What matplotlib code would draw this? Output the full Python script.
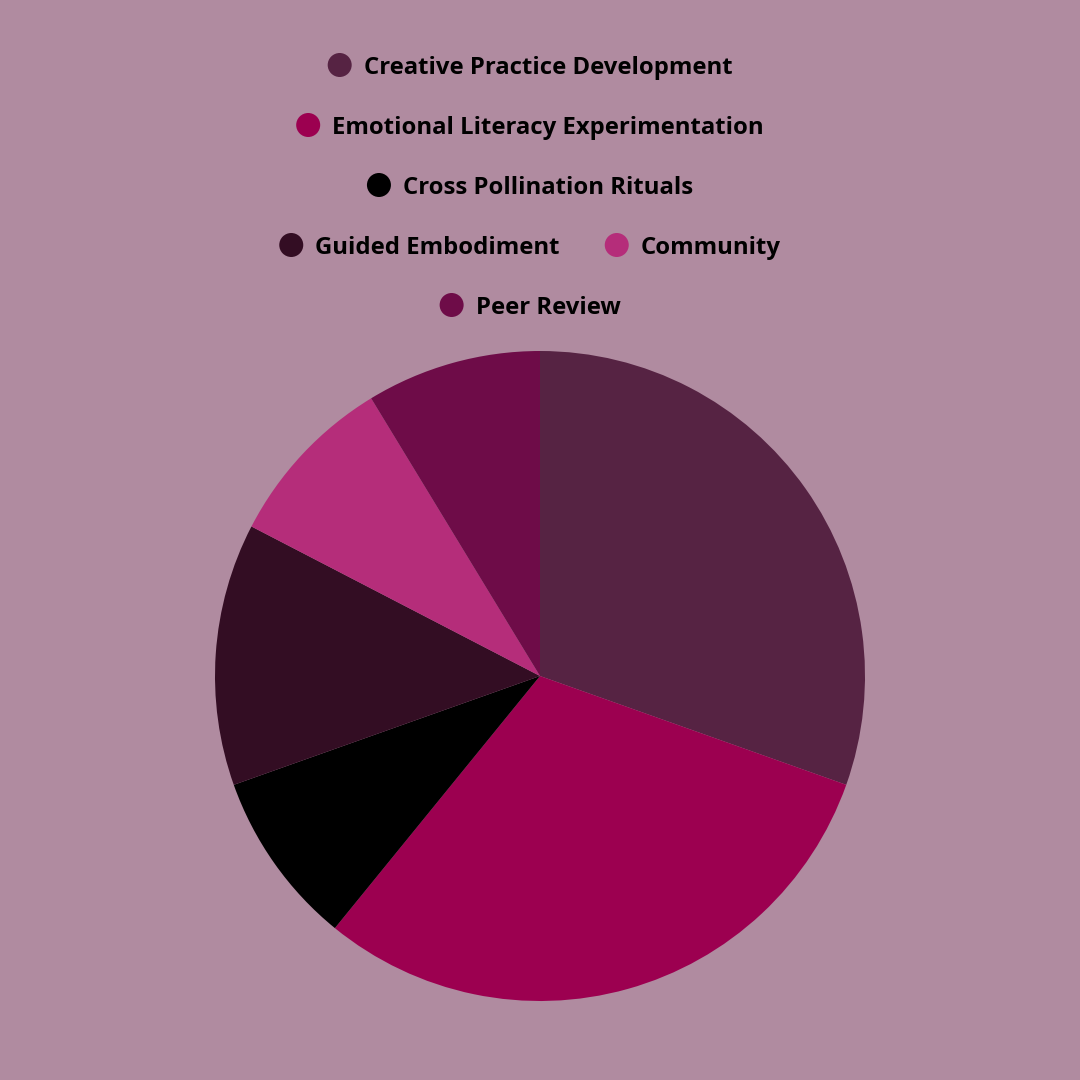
import matplotlib
matplotlib.use("Agg")
import matplotlib.pyplot as plt
from matplotlib.patches import Circle

categories = ["Creative Practice Development", "Emotional Literacy Experimentation",
              "Cross Pollination Rituals", "Guided Embodiment", "Community", "Peer Review"]
values = [35, 35, 10, 15, 10, 10]
colors = ["#562343", "#9C0050", "#000000", "#330D23", "#B52D7A", "#6E0C48"]
legend_rows = [[0], [1], [2], [3, 4], [5]]

BG = "#B08BA0"
W = H = 1080
fig = plt.figure(figsize=(10.8, 10.8), dpi=100, facecolor=BG)
ax = fig.add_axes([0, 0, 1, 1])
ax.set_xlim(0, W)
ax.set_ylim(0, H)
ax.set_aspect("equal")
ax.axis("off")

# pie
ax.pie(values, colors=colors, startangle=90, counterclock=False,
       radius=325, center=(540, H - 676), frame=True)
ax.set_xlim(0, W)
ax.set_ylim(0, H)
ax.axis("off")

# legend
fs = 17.2
font = dict(family=["Open Sans", "DejaVu Sans"], weight="bold", size=fs)
renderer = fig.canvas.get_renderer()
row_y = [65, 125, 185, 245, 305]
legend_cx = 530
r_dot = 12
gap_dot_text = 12
gap_items = 45

def text_width(s):
    t = ax.text(0, 0, s, **font)
    bb = t.get_window_extent(renderer=renderer)
    t.remove()
    return bb.width

for row, y in zip(legend_rows, row_y):
    widths = [text_width(categories[i]) for i in row]
    total = sum(2 * r_dot + gap_dot_text + w for w in widths) + gap_items * (len(row) - 1)
    x = legend_cx - total / 2
    for i, w in zip(row, widths):
        ax.add_patch(Circle((x + r_dot, H - y), r_dot, color=colors[i], lw=0))
        ax.text(x + 2 * r_dot + gap_dot_text, H - y, categories[i], va="center_baseline",
                ha="left", color="black", **font)
        x += 2 * r_dot + gap_dot_text + w + gap_items

fig.savefig("out.png", dpi=100, facecolor=BG)
